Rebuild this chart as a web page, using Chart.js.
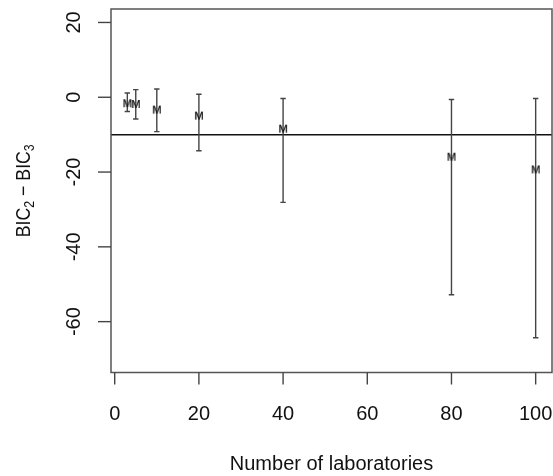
<!DOCTYPE html>
<html><head><meta charset="utf-8">
<script src="https://cdn.jsdelivr.net/npm/chart.js@4.4.1/dist/chart.umd.min.js"></script>
<style>html,body{margin:0;padding:0;background:#fff;}#wrap{width:553px;height:476px;}</style>
</head><body><div id="wrap"><canvas id="c" width="553" height="476"></canvas></div>
<script>
// ---- data ----
const laboratories = [3, 5, 10, 20, 40, 80, 100];
const meanDiff = [-1.6, -1.8, -3.3, -4.9, -8.4, -15.9, -19.3];
const upperCI = [1.15, 2.05, 2.2, 0.8, -0.35, -0.6, -0.35];
const lowerCI = [-3.8, -5.8, -9.2, -14.3, -28.1, -52.8, -64.3];
const referenceLine = -10;
const xTicks = [0, 20, 40, 60, 80, 100];
const yTicks = [-60, -40, -20, 0, 20];
const xTitle = 'Number of laboratories';
const markerLabel = 'M';
const X_RANGE = [-0.88, 103.88];
const Y_RANGE = [-73.6, 23.6];

const FONT = '"Liberation Sans", Arial, Helvetica, sans-serif';

function makeMarker() {
  const c = document.createElement('canvas');
  c.width = 16; c.height = 16;
  const g = c.getContext('2d');
  g.fillStyle = '#1a1a1a';
  g.font = '11px ' + FONT;
  g.textAlign = 'center';
  g.textBaseline = 'alphabetic';
  g.fillText(markerLabel, 8, 8 + 0.358 * 11);
  g.fillText(markerLabel, 8, 8 + 0.358 * 11);
  return c;
}
const marker = makeMarker();

const errorSets = laboratories.map((x, i) => ({
  data: [{x: x, y: lowerCI[i]}, {x: x, y: upperCI[i]}],
  showLine: true,
  borderColor: '#444', borderWidth: 1.4,
  pointStyle: 'line', pointRadius: 2.7, pointHoverRadius: 2.7,
  pointBorderColor: '#444', pointBorderWidth: 1.4, pointBackgroundColor: '#444',
  order: 1
}));
const meanSet = {
  data: laboratories.map((x, i) => ({x: x, y: meanDiff[i]})),
  showLine: false,
  pointStyle: marker, pointRadius: 8, pointHoverRadius: 8,
  order: 0
};

const rAxes = {
  id: 'rAxes',
  beforeDatasetsDraw(chart) {
    const {ctx, chartArea: a, scales: {y}} = chart;
    ctx.save();
    ctx.strokeStyle = '#111'; ctx.lineWidth = 1.5;
    const yr = y.getPixelForValue(referenceLine);
    ctx.beginPath(); ctx.moveTo(a.left, yr); ctx.lineTo(a.right, yr); ctx.stroke();
    ctx.restore();
  },
  afterDraw(chart) {
    const {ctx, chartArea: a, scales: {x, y}} = chart;
    ctx.save();
    // box
    ctx.strokeStyle = '#555'; ctx.lineWidth = 1.5;
    ctx.strokeRect(a.left, a.top, a.right - a.left, a.bottom - a.top);
    // x ticks
    ctx.strokeStyle = '#444'; ctx.lineWidth = 1.4;
    ctx.fillStyle = '#111';
    ctx.font = '20px ' + FONT;
    ctx.textAlign = 'center'; ctx.textBaseline = 'alphabetic';
    xTicks.forEach(t => {
      const px = x.getPixelForValue(t);
      ctx.beginPath(); ctx.moveTo(px, a.bottom); ctx.lineTo(px, a.bottom + 12); ctx.stroke();
      ctx.fillText(String(t), px, a.bottom + 47.5);
    });
    // y ticks
    yTicks.forEach(t => {
      const py = y.getPixelForValue(t);
      ctx.beginPath(); ctx.moveTo(a.left - 13, py); ctx.lineTo(a.left, py); ctx.stroke();
      ctx.save();
      ctx.translate(a.left - 31, py);
      ctx.rotate(-Math.PI / 2);
      ctx.fillText(String(t), 0, 0);
      ctx.restore();
    });
    // x title
    ctx.fillText(xTitle, (a.left + a.right) / 2, 470);
    // y title: BIC_2 − BIC_3
    const parts = [
      ['BIC', false], ['2', true], [' \u2212 ', false], ['BIC', false], ['3', true]
    ];
    const mainF = '20px ' + FONT, subF = '14px ' + FONT;
    let W = 0;
    const widths = parts.map(p => { ctx.font = p[1] ? subF : mainF; const w = ctx.measureText(p[0]).width; W += w; return w; });
    const s = 93 / W;
    ctx.save();
    ctx.translate(30, (a.top + a.bottom) / 2);
    ctx.rotate(-Math.PI / 2);
    ctx.scale(s, 1);
    ctx.textAlign = 'left';
    let cx = -W / 2;
    parts.forEach((p, i) => {
      ctx.font = p[1] ? subF : mainF;
      ctx.fillText(p[0], cx, p[1] ? 4 : 0);
      cx += widths[i];
    });
    ctx.restore();
    ctx.restore();
  }
};

new Chart(document.getElementById('c'), {
  type: 'scatter',
  data: {datasets: [meanSet].concat(errorSets)},
  options: {
    responsive: false,
    animation: false,
    events: [],
    layout: {autoPadding: false, padding: {left: 111, right: 1, top: 9, bottom: 103.5}},
    plugins: {legend: {display: false}, tooltip: {enabled: false}},
    scales: {
      x: {type: 'linear', display: false, min: X_RANGE[0], max: X_RANGE[1]},
      y: {type: 'linear', display: false, min: Y_RANGE[0], max: Y_RANGE[1]}
    }
  },
  plugins: [rAxes]
});
</script></body></html>
